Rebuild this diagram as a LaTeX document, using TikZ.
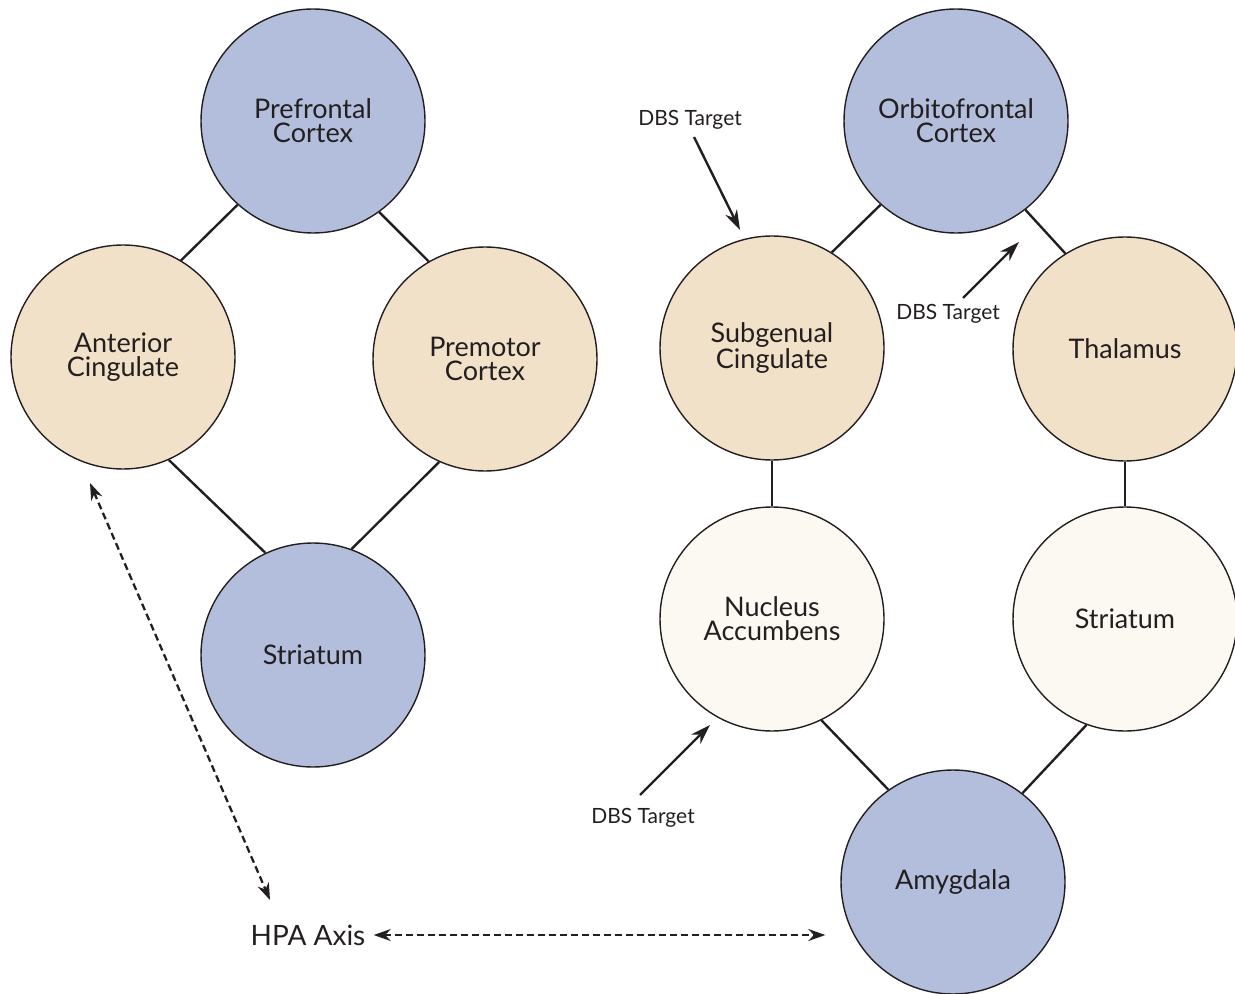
\documentclass[tikz,border=0pt]{standalone}
\usepackage{fontspec}
\setmainfont{Lato}
\usetikzlibrary{arrows.meta}
\definecolor{cblue}{HTML}{B3BEDC}
\definecolor{ctan}{HTML}{F1E1C8}
\definecolor{ccream}{HTML}{FCF9F3}
\definecolor{ink}{HTML}{231F20}
\begin{document}
\begin{tikzpicture}[x=0.5pt,y=-0.5pt,
  region/.style={circle, draw=ink, line width=0.7pt, minimum size=112pt, inner sep=0pt, align=center, text=ink, font=\fontsize{13.5}{12}\selectfont},
  bluereg/.style={region, fill=cblue},
  tanreg/.style={region, fill=ctan},
  creamreg/.style={region, fill=ccream},
  link/.style={draw=ink, line width=1.2pt},
  dbs/.style={text=ink, inner sep=1pt, font=\fontsize{10.5}{12}\selectfont},
  dbsarrow/.style={draw=ink, line width=1.2pt, -{Stealth[length=10pt,width=6.5pt]}},
  hpaarrow/.style={draw=ink, line width=1.15pt, dash pattern=on 3.5pt off 2pt, {Stealth[length=8.5pt,width=6pt]}-{Stealth[length=8.5pt,width=6pt]}},
  lbl/.style={text=ink, inner sep=2pt, font=\fontsize{14}{14}\selectfont}
]
\useasboundingbox (0,0) rectangle (1235,994);

% left circuit
\node[bluereg] (pf) at (313,121) {Prefrontal\\Cortex};
\node[tanreg]  (ac) at (123,357) {Anterior\\Cingulate};
\node[tanreg]  (pm) at (485,359) {Premotor\\Cortex};
\node[bluereg] (sl) at (313,655) {Striatum};

% right circuit
\node[bluereg]  (of) at (956,121) {Orbitofrontal\\Cortex};
\node[tanreg]   (sg) at (772,348) {Subgenual\\Cingulate};
\node[tanreg]   (th) at (1125,349) {Thalamus};
\node[creamreg] (na) at (772,619) {Nucleus\\Accumbens};
\node[creamreg] (sr) at (1125,619) {Striatum};
\node[bluereg]  (am) at (953,882) {Amygdala};

% links
\draw[link] (pf.228) -- (ac.59);
\draw[link] (pf.306) -- (pm.120);
\draw[link] (ac.294) -- (sl.115);
\draw[link] (pm.246) -- (sl.70);
\draw[link] (of.228) -- (sg.58);
\draw[link] (of.308) -- (th.122);
\draw[link] (sg.270) -- (na.90);
\draw[link] (th.270) -- (sr.90);
\draw[link] (na.296) -- (am.125);
\draw[link] (sr.250) -- (am.52);

% HPA axis
\node[lbl] (hpa) at (308,935) {HPA Axis};
\coordinate (h1) at (90,483);
\coordinate (h2) at (270,900);
\draw[hpaarrow] (h1) -- (h2);
\draw[hpaarrow, shorten <=2pt, shorten >=7.5pt] (hpa.east) -- (hpa.east -| am.west);

% DBS targets
\node[dbs] (d1) at (690,120) {DBS Target};
\coordinate (d1s) at (694,137);
\coordinate (d1e) at (740,230);
\draw[dbsarrow] (d1s) -- (d1e);

\node[dbs] (d2) at (948,314) {DBS Target};
\coordinate (d2s) at (963,298);
\coordinate (d2e) at (1019,242);
\draw[dbsarrow] (d2s) -- (d2e);

\node[dbs] (d3) at (643,818) {DBS Target};
\coordinate (d3s) at (640,795);
\coordinate (d3e) at (710,725);
\draw[dbsarrow] (d3s) -- (d3e);
\end{tikzpicture}
\end{document}
